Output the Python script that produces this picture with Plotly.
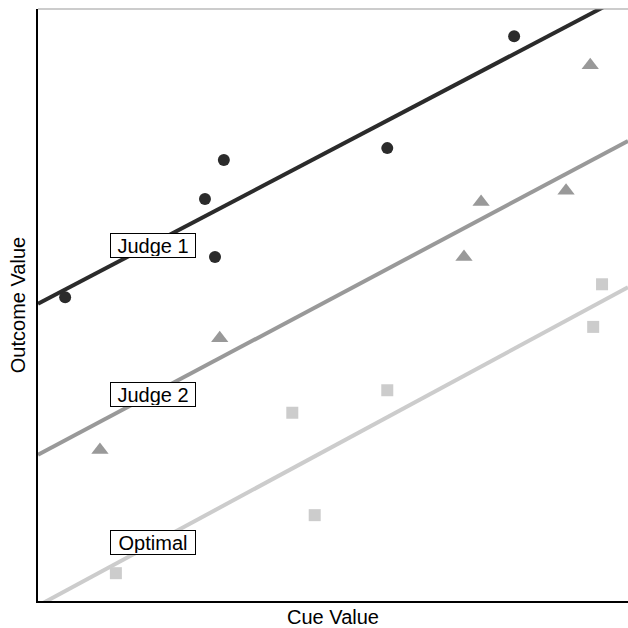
import plotly.graph_objects as go

# ---- data ----
judge1_x = [0.46, 2.83, 3.15, 3.00, 5.92, 8.07]
judge1_y = [5.13, 6.79, 7.45, 5.81, 7.65, 9.54]

judge2_x = [1.05, 3.08, 7.22, 7.51, 8.95, 9.36]
judge2_y = [2.55, 4.44, 5.81, 6.74, 6.93, 9.05]

optimal_x = [1.32, 4.31, 4.69, 5.92, 9.41, 9.56]
optimal_y = [0.47, 3.18, 1.45, 3.56, 4.63, 5.35]

line_x = [0, 10]
judge1_line = [5.02, 10.25]
judge2_line = [2.47, 7.77]
optimal_line = [-0.08, 5.30]

labels = ["Judge 1", "Judge 2", "Optimal"]
label_x = [1.95, 1.95, 1.95]
label_y = [6.00, 3.49, 0.99]

c1, c2, c3 = "#2b2b2b", "#999999", "#cccccc"
FONT = "Liberation Sans, Arial, Helvetica"

fig = go.Figure()
for ly, col in [(judge1_line, c1), (judge2_line, c2), (optimal_line, c3)]:
    fig.add_trace(go.Scatter(x=line_x, y=ly, mode="lines",
                             line=dict(color=col, width=4), hoverinfo="skip"))

fig.add_trace(go.Scatter(x=judge1_x, y=judge1_y, mode="markers",
                         marker=dict(symbol="circle", size=12, color=c1)))
fig.add_trace(go.Scatter(x=judge2_x, y=judge2_y, mode="markers",
                         marker=dict(symbol="triangle-up", size=15, color=c2)))
fig.add_trace(go.Scatter(x=optimal_x, y=optimal_y, mode="markers",
                         marker=dict(symbol="square", size=12, color=c3)))

for t, x, y in zip(labels, label_x, label_y):
    fig.add_annotation(x=x, y=y, text=t, showarrow=False,
                       font=dict(size=20, color="black", family=FONT),
                       width=82, height=21,
                       bgcolor="white", bordercolor="black", borderwidth=1, borderpad=1)

# top border in light gray
fig.add_shape(type="line", xref="paper", yref="paper", x0=0, x1=1, y0=1, y1=1,
              line=dict(color="#999999", width=1))

fig.update_layout(
    width=628, height=628,
    margin=dict(l=38, r=0, t=9, b=27, autoexpand=False),
    plot_bgcolor="white", paper_bgcolor="white",
    showlegend=False, hovermode=False,
    font=dict(family=FONT, size=20, color="black"),
    xaxis=dict(range=[0, 10], showgrid=False, zeroline=False, showticklabels=False,
               ticks="", showline=True, linecolor="black", linewidth=1.5, automargin=False,
               title=dict(text="Cue Value", standoff=8, font=dict(size=20))),
    yaxis=dict(range=[0, 10], showgrid=False, zeroline=False, showticklabels=False,
               ticks="", showline=True, linecolor="black", linewidth=1.5, automargin=False,
               title=dict(text="Outcome Value", standoff=5, font=dict(size=20))),
)

fig.write_html("out.html",
               config={"displayModeBar": False},
               post_script="document.body.style.margin='0px';"
                           "document.documentElement.style.overflow='hidden';")
